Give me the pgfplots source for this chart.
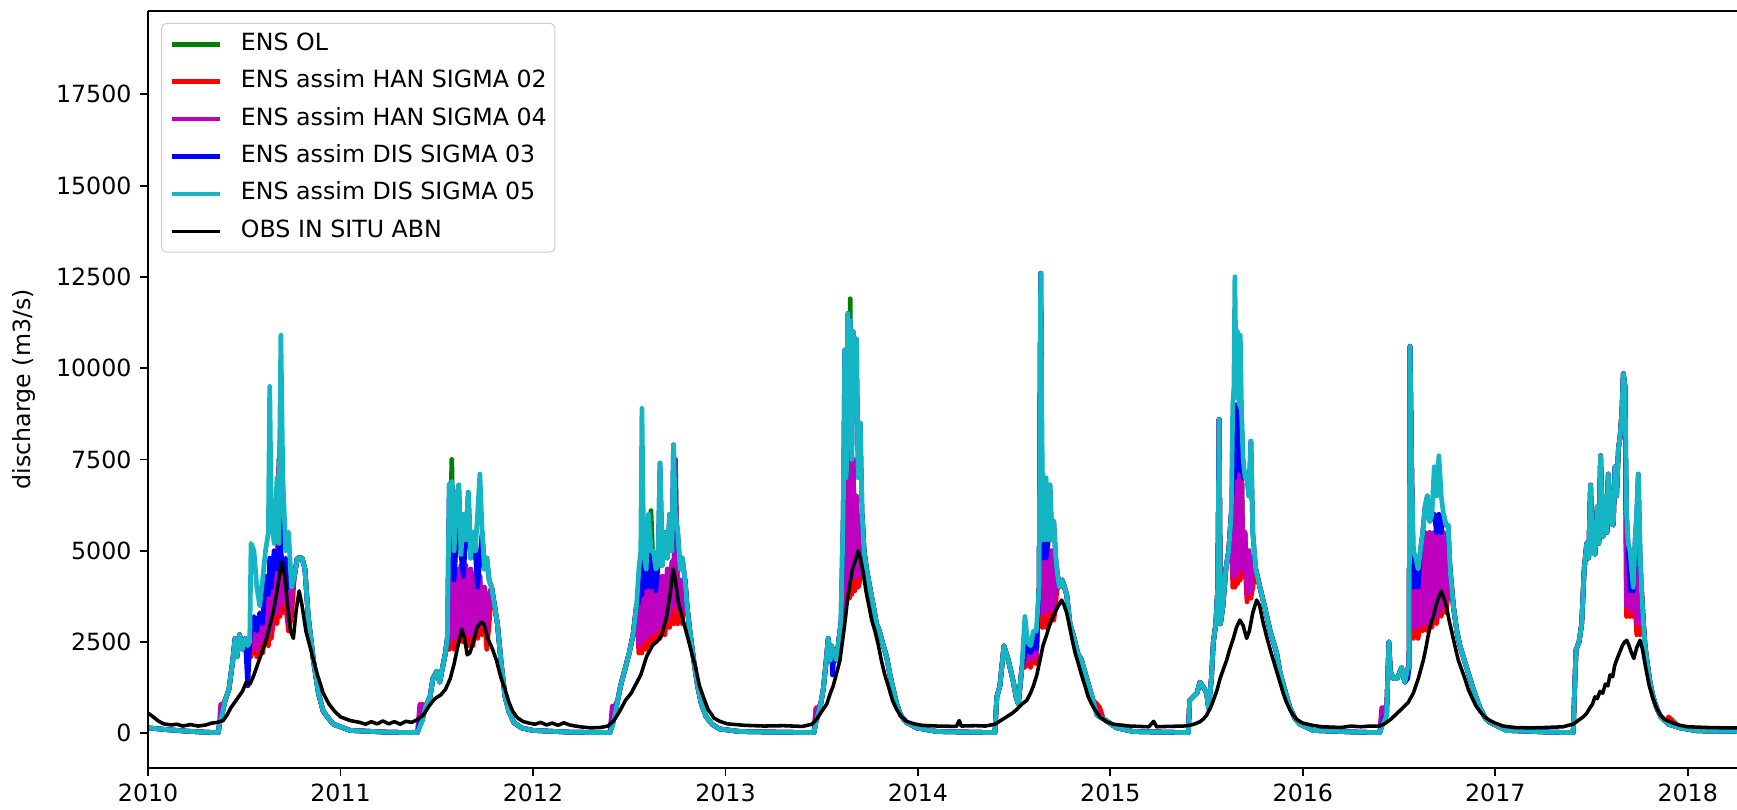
\documentclass[border=0pt]{standalone}
\usepackage{fontspec}
\setmainfont{DejaVu Sans}
\usepackage{pgfplots}
\usepackage{pgfplotstable}
\pgfplotsset{compat=1.18}
\definecolor{mgreen}{rgb}{0,0.5,0}
\definecolor{mred}{rgb}{1,0,0}
\definecolor{mmag}{rgb}{0.75,0,0.75}
\definecolor{mblue}{rgb}{0,0,1}
\definecolor{mcyan}{RGB}{20,182,196}

% x = years since 1 Jan 2010; g = ENS OL, r = HAN 02, m = HAN 04, b = DIS 03, c = DIS 05
\pgfplotstableread{
x g r m b c
0.000 150 150 150 150 150
0.100 100 100 100 100 100
0.200 60 60 60 60 60
0.300 30 30 30 30 30
0.365 20 20 20 20 20
0.372 300 300 300 300 300
0.378 400 800 750 400 400
0.388 600 700 800 600 600
0.400 900 900 900 900 900
0.420 1200 1200 1200 1200 1200
0.440 2000 2000 2000 2000 2000
0.452 2600 2600 2600 2600 2600
0.462 2100 2100 2100 2100 2100
0.475 2700 2700 2700 2700 2700
0.490 2300 2300 2300 2300 2300
0.505 2600 2600 2600 2600 2600
0.518 2400 2400 2400 1300 2400
0.528 2500 2500 2500 2500 2500
0.535 2300 2100 2300 2800 5200
0.550 3000 2600 3000 3200 5000
0.565 2300 2100 2300 2800 4000
0.580 3100 2700 3100 3300 3500
0.595 2500 2200 2500 3000 4200
0.610 4000 2800 4000 4300 5000
0.625 2700 2400 2700 3800 5500
0.632 4300 3000 4300 4800 9500
0.640 2900 2600 2900 4000 6000
0.655 4600 3200 4600 5000 5200
0.670 3300 3000 3300 4500 7000
0.680 7500 3800 7500 5000 5200
0.685 3500 3200 3500 8000 8500
0.690 4600 3800 4600 5000 10900
0.700 3600 3300 3600 4500 7000
0.715 4500 3500 4500 4800 5000
0.730 3000 2800 3000 4000 5500
0.745 3800 3200 3800 4000 4000
0.760 4300 4300 4300 4300 4300
0.775 4800 4800 4800 4800 4800
0.800 4800 4800 4800 4800 4800
0.815 4500 4500 4500 4500 4500
0.832 3200 3200 3200 3200 3200
0.859 2000 2000 2000 2000 2000
0.885 1100 1100 1100 1100 1100
0.910 600 600 600 600 600
0.962 250 250 250 250 250
1.050 80 80 80 80 80
1.250 30 30 30 30 30
1.400 20 20 20 20 20
1.412 200 600 800 300 200
1.425 350 800 700 400 350
1.440 700 700 700 700 700
1.465 1000 1000 1000 1000 1000
1.480 1500 1500 1500 1500 1500
1.500 1700 1700 1700 1700 1700
1.515 1400 1400 1400 1400 1400
1.530 1800 1800 1800 1800 1800
1.545 2200 2200 2200 2200 2200
1.555 2600 2600 2600 2600 2600
1.565 2500 2300 2500 6800 6800
1.578 7500 2800 4500 6900 6900
1.590 2600 2300 2600 4200 5000
1.602 4500 2900 4500 5300 6500
1.614 2700 2500 2700 6800 6800
1.626 4600 3000 4600 4900 4900
1.638 2800 2500 2800 4300 6000
1.650 4600 3100 4600 5300 5300
1.664 2700 2400 2700 6600 6600
1.676 4500 3000 4500 4800 4800
1.688 2700 2400 2700 5500 5500
1.700 4400 3000 4400 5000 5000
1.712 2900 2600 2900 4000 6000
1.724 4300 3200 4300 4800 7100
1.736 3000 2700 3000 5500 5500
1.748 4000 3200 4000 4500 4500
1.760 2800 2300 2800 4800 4800
1.772 3800 3000 3800 4200 4200
1.785 4000 4000 4000 4000 4000
1.800 3500 3500 3500 3500 3500
1.815 3000 3000 3000 3000 3000
1.835 1900 1900 1900 1900 1900
1.855 1000 1000 1000 1000 1000
1.875 600 600 600 600 600
1.900 300 300 300 300 300
1.940 150 150 150 150 150
2.000 80 80 80 80 80
2.200 30 30 30 30 30
2.400 20 20 20 20 20
2.412 200 600 750 300 200
2.425 500 750 700 500 500
2.440 900 900 900 900 900
2.455 1300 1300 1300 1300 1300
2.470 1600 1600 1600 1600 1600
2.480 1800 1800 1800 1800 1800
2.500 2200 2200 2200 2200 2200
2.520 2700 2700 2700 2700 2700
2.538 3500 3500 3500 3500 3500
2.550 2400 2200 2400 3600 4500
2.560 3900 2700 3900 4600 5000
2.566 2500 2200 2500 3800 8900
2.575 4100 2800 4100 4900 5000
2.588 2600 2300 2600 4000 4500
2.600 4300 2900 4300 5000 6000
2.613 6100 2400 2700 4000 5000
2.626 4300 3000 4300 4800 5000
2.638 2800 2500 2800 3900 4500
2.650 4300 3100 4300 4600 4600
2.660 2900 2600 2900 7400 7400
2.672 4300 3200 4300 4600 4600
2.685 3000 2700 3000 5500 5500
2.698 4500 3300 4500 4800 4800
2.710 3200 2900 3200 6000 6000
2.722 4700 3500 4700 5000 5000
2.730 3500 3000 3500 7900 7900
2.740 7500 3600 7500 6000 6000
2.752 3400 3000 3400 5500 5500
2.764 4200 3500 4200 4500 4500
2.776 3300 3000 3300 4800 4800
2.790 4200 4200 4200 4200 4200
2.800 3500 3500 3500 3500 3500
2.815 2800 2800 2800 2800 2800
2.835 2000 2000 2000 2000 2000
2.855 1300 1300 1300 1300 1300
2.875 800 800 800 800 800
2.900 450 450 450 450 450
2.930 250 250 250 250 250
2.970 120 120 120 120 120
3.075 50 50 50 50 50
3.300 30 30 30 30 30
3.460 20 20 20 20 20
3.470 300 700 650 300 300
3.480 500 600 700 500 500
3.495 800 800 800 800 800
3.508 1200 1200 1200 1200 1200
3.520 1800 1800 1800 1800 1800
3.534 2600 2600 2600 2600 2600
3.545 2000 2000 2000 2000 2000
3.551 2400 2400 2400 2400 2400
3.556 2300 2300 2300 1600 2300
3.565 2200 2200 2200 2200 2200
3.578 2000 2000 2000 2000 2000
3.590 2600 2600 2600 2600 2600
3.600 3000 3000 3000 3000 3000
3.612 3500 3300 3500 6000 6000
3.620 5000 3800 5000 10500 10500
3.628 3900 3600 3900 7000 7000
3.636 7000 4000 7000 11500 11500
3.644 4100 3700 4100 8000 8000
3.648 11900 4200 7600 11300 11300
3.656 4200 3800 4200 7500 7500
3.664 7500 4300 7500 11000 11000
3.672 4300 3900 4300 9000 9000
3.680 6500 4300 6500 10800 10800
3.690 4300 4000 4300 7000 7000
3.700 5000 4200 5000 8500 8500
3.710 6000 6000 6000 6000 6000
3.720 5000 5000 5000 5000 5000
3.733 4500 4500 4500 4500 4500
3.750 4000 4000 4000 4000 4000
3.768 3500 3500 3500 3500 3500
3.785 3000 3000 3000 3000 3000
3.800 2800 2800 2800 2800 2800
3.815 2500 2500 2500 2500 2500
3.837 2100 2100 2100 2100 2100
3.855 1600 1600 1600 1600 1600
3.872 1200 1200 1200 1200 1200
3.890 800 800 800 800 800
3.910 500 500 500 500 500
3.940 300 300 300 300 300
3.993 150 150 150 150 150
4.100 50 50 50 50 50
4.300 30 30 30 30 30
4.400 20 20 20 20 20
4.410 1000 1000 1000 1000 1000
4.426 1300 1300 1300 1300 1300
4.447 2400 2400 2400 2400 2400
4.470 2000 2000 2000 2000 2000
4.496 1400 1400 1400 1400 1400
4.510 1000 1000 1000 1000 1000
4.522 800 800 800 800 800
4.540 1800 1800 1800 1800 1800
4.556 2000 1800 2000 2200 3200
4.570 2300 2100 2300 2500 2500
4.585 2000 1800 2000 2200 2400
4.600 2300 2100 2300 2500 2800
4.615 2100 1900 2100 2300 2800
4.630 4000 4000 4000 4000 4000
4.638 12600 12600 12600 12600 12600
4.646 3300 2900 3300 4800 7300
4.656 5000 3400 5000 5200 5300
4.666 3300 2900 3300 4800 7000
4.676 5000 3400 5000 5200 5300
4.686 3400 3000 3400 6800 6800
4.696 5000 3500 5000 5300 5300
4.706 3400 3100 3400 5800 5800
4.716 4600 3500 4600 4800 4800
4.726 4300 4300 4300 4300 4300
4.735 4000 4000 4000 4000 4000
4.750 4200 4200 4200 4200 4200
4.773 3800 3800 3800 3800 3800
4.790 3000 3000 3000 3000 3000
4.807 2700 2700 2700 2700 2700
4.830 2200 2200 2200 2200 2200
4.850 2000 2000 2000 2000 2000
4.877 1500 1500 1500 1500 1500
4.910 900 900 900 900 900
4.930 600 800 600 500 500
4.945 450 700 450 450 450
4.963 400 400 400 400 400
5.033 150 150 150 150 150
5.120 50 50 50 50 50
5.300 30 30 30 30 30
5.405 20 20 20 20 20
5.412 900 900 900 900 900
5.430 1000 1000 1000 1000 1000
5.450 1100 1100 1100 1100 1100
5.465 1400 1400 1400 1400 1400
5.480 1300 1300 1300 1300 1300
5.500 1100 1100 1100 1100 1100
5.510 700 700 700 700 700
5.525 1500 1500 1500 1500 1500
5.535 2500 2500 2500 2500 2500
5.548 3000 3000 3000 3000 3000
5.558 4000 4000 4000 4000 4000
5.565 8600 8600 8600 8600 8600
5.572 3000 3000 3000 3000 3000
5.585 3500 3500 3500 3500 3500
5.600 4500 4500 4500 4500 4500
5.615 5000 5000 5000 5000 5000
5.628 6000 6000 6000 6000 6000
5.636 4300 4000 4300 7000 9000
5.642 7200 4600 7200 9000 9500
5.647 4300 4000 4300 7000 12500
5.654 7300 4600 7300 9000 9200
5.661 4400 4100 4400 7200 11000
5.668 7400 4700 7400 8800 9000
5.675 4500 4200 4500 7200 10900
5.682 7300 4700 7300 8500 8700
5.690 4500 4300 4500 7000 7500
5.700 5500 4600 5500 7000 7000
5.710 3800 3600 3800 7000 7000
5.720 5000 4200 5000 6500 6500
5.730 3900 3700 3900 8000 8000
5.740 4800 4000 4800 5500 5500
5.755 4500 4500 4500 4500 4500
5.777 4000 4000 4000 4000 4000
5.800 3500 3500 3500 3500 3500
5.830 2800 2800 2800 2800 2800
5.864 2200 2200 2200 2200 2200
5.880 1700 1700 1700 1700 1700
5.900 1300 1300 1300 1300 1300
5.933 700 700 700 700 700
5.960 400 400 400 400 400
5.985 250 250 250 250 250
6.055 80 80 80 80 80
6.300 30 30 30 30 30
6.400 20 20 20 20 20
6.410 200 500 700 200 200
6.420 300 600 700 400 300
6.435 500 500 500 500 500
6.447 2500 2500 2500 2500 2500
6.455 1700 1700 1700 1700 1700
6.470 1500 1500 1500 1500 1500
6.490 1500 1500 1500 1500 1500
6.513 1800 1800 1800 1800 1800
6.530 1400 1400 1400 1400 1400
6.545 1800 1800 1800 1500 1800
6.552 1800 1800 1800 1800 1800
6.557 10600 10600 10600 10600 10600
6.566 7000 7000 7000 7000 7000
6.575 2900 2600 2900 4000 5000
6.587 4300 3100 4300 4700 4800
6.599 2900 2600 2900 4000 4500
6.611 4800 3100 4800 5000 5000
6.623 3000 2800 3000 5500 5500
6.635 5500 3200 5500 6200 6200
6.647 3000 2800 3000 6500 6500
6.659 5500 3200 5500 5800 5800
6.671 3100 2900 3100 6000 6000
6.683 5500 3300 5500 6000 7300
6.695 3200 3000 3200 5500 6500
6.707 5600 3500 5600 6000 7600
6.719 3400 3200 3400 5500 6500
6.731 5500 3600 5500 6000 6000
6.743 3500 3300 3500 5700 5700
6.755 5200 3800 5200 5700 5700
6.765 4500 4500 4500 4500 4500
6.782 3500 3500 3500 3500 3500
6.800 2800 2800 2800 2800 2800
6.816 2400 2400 2400 2400 2400
6.851 1800 1800 1800 1800 1800
6.886 1200 1200 1200 1200 1200
6.920 700 700 700 700 700
6.950 400 400 400 400 400
6.972 300 300 300 300 300
7.059 80 80 80 80 80
7.300 30 30 30 30 30
7.405 20 20 20 20 20
7.414 1500 1500 1500 1500 1500
7.420 2300 2300 2300 2300 2300
7.435 2500 2500 2500 2500 2500
7.449 3000 3000 3000 3000 3000
7.462 4500 4500 4500 4500 4500
7.475 5200 5200 5200 5200 5200
7.485 4800 4800 4800 4800 4800
7.495 6800 6800 6800 6800 6800
7.505 5000 5000 5000 5000 5000
7.518 4900 4900 4900 4900 4900
7.530 6200 6200 6200 6200 6200
7.538 5200 5200 5200 5200 5200
7.547 7600 7600 7600 7600 7600
7.555 6000 6000 6000 6000 6000
7.561 5400 5400 5400 5400 5400
7.572 6500 6500 6500 6500 6500
7.580 5500 5500 5500 5500 5500
7.587 7100 7100 7100 7100 7100
7.600 5800 5800 5800 5800 5800
7.613 5700 5700 5700 5700 5700
7.622 7300 7300 7300 7300 7300
7.630 6500 6500 6500 6500 6500
7.640 7800 7800 7800 7800 7800
7.648 8100 8100 8100 8100 8100
7.658 8800 8800 8800 8800 8800
7.665 9850 9850 9850 9850 9850
7.674 9500 9500 9500 9500 9500
7.682 3500 3200 3500 6000 6000
7.690 4700 3700 4700 5200 5200
7.700 3400 3200 3400 3900 5000
7.708 4100 3700 4100 4300 4500
7.717 3400 3200 3400 3900 4000
7.726 5000 3600 5000 5200 5200
7.735 3000 2700 3000 6000 6000
7.743 4800 3200 4800 7100 7100
7.752 3000 2700 3000 5000 5000
7.760 3900 3900 3900 3900 3900
7.770 3000 3000 3000 3000 3000
7.778 2400 2400 2400 2400 2400
7.790 1900 1900 1900 1900 1900
7.804 1400 1400 1400 1400 1400
7.820 1000 1000 1000 1000 1000
7.838 700 700 700 700 700
7.860 450 450 450 450 450
7.890 300 300 300 300 300
7.900 250 450 250 250 250
7.960 150 150 150 150 150
8.050 70 70 70 70 70
8.300 50 50 50 50 50
}\sims

\pgfplotstableread{
x o
0.000 550
0.020 480
0.050 350
0.080 260
0.120 230
0.150 250
0.180 200
0.220 240
0.260 200
0.300 230
0.330 280
0.360 300
0.390 350
0.410 500
0.430 700
0.450 850
0.470 1000
0.490 1150
0.510 1400
0.530 1350
0.550 1600
0.570 1900
0.590 2200
0.610 2500
0.630 2900
0.650 3300
0.670 3900
0.685 4400
0.695 4700
0.710 4300
0.725 3500
0.740 2800
0.755 2600
0.770 3400
0.785 3900
0.800 3500
0.820 2800
0.850 2200
0.880 1600
0.910 1100
0.940 800
0.970 600
1.000 450
1.050 350
1.100 300
1.130 250
1.160 320
1.190 260
1.220 340
1.250 260
1.280 320
1.310 250
1.340 330
1.370 300
1.400 380
1.430 500
1.460 750
1.490 950
1.520 1050
1.545 1200
1.570 1500
1.590 1900
1.610 2400
1.630 2850
1.645 2600
1.658 2150
1.672 2200
1.690 2500
1.710 2900
1.730 3050
1.745 3000
1.765 2600
1.790 2300
1.810 2000
1.835 1500
1.855 1200
1.875 850
1.895 600
1.920 420
1.950 320
1.980 280
2.010 250
2.040 300
2.070 230
2.100 280
2.130 220
2.160 290
2.190 230
2.220 200
2.260 170
2.300 150
2.350 160
2.390 200
2.420 350
2.450 600
2.480 900
2.510 1100
2.540 1400
2.560 1600
2.590 2100
2.620 2400
2.650 2550
2.670 2700
2.694 3200
2.712 3800
2.728 4500
2.740 4200
2.755 3600
2.775 3200
2.800 2700
2.825 2200
2.845 1800
2.865 1300
2.885 1000
2.910 650
2.940 420
2.970 330
3.010 260
3.100 220
3.200 200
3.300 210
3.400 190
3.450 250
3.475 400
3.500 600
3.526 800
3.545 1100
3.560 1300
3.580 1700
3.595 2000
3.610 2600
3.620 3000
3.635 3700
3.647 4100
3.660 4500
3.673 4700
3.690 5000
3.700 4800
3.716 4400
3.730 3900
3.745 3500
3.760 3100
3.777 2800
3.795 2400
3.810 2000
3.828 1600
3.846 1300
3.868 900
3.890 650
3.915 450
3.940 330
3.980 260
4.020 220
4.100 200
4.200 190
4.215 350
4.225 200
4.300 210
4.350 200
4.400 250
4.430 350
4.460 450
4.490 550
4.513 650
4.540 800
4.565 900
4.585 1100
4.600 1300
4.618 1600
4.634 2000
4.650 2400
4.669 2700
4.686 3000
4.703 3200
4.725 3450
4.747 3650
4.760 3500
4.773 3300
4.787 2950
4.800 2600
4.817 2200
4.834 1900
4.850 1600
4.868 1300
4.885 1000
4.903 800
4.925 600
4.946 450
4.980 320
5.015 250
5.100 200
5.200 180
5.225 330
5.240 180
5.300 190
5.380 200
5.414 220
5.440 260
5.466 320
5.485 400
5.500 500
5.520 700
5.535 900
5.555 1200
5.570 1500
5.590 1800
5.604 2000
5.620 2300
5.639 2600
5.655 2900
5.673 3100
5.690 2950
5.708 2600
5.722 2800
5.740 3300
5.760 3650
5.775 3500
5.795 3000
5.812 2650
5.830 2300
5.847 2000
5.864 1700
5.881 1400
5.898 1100
5.915 850
5.933 650
5.950 500
5.968 380
6.000 280
6.050 220
6.100 180
6.200 160
6.250 200
6.300 180
6.350 200
6.400 200
6.430 280
6.460 400
6.490 550
6.520 700
6.548 850
6.574 1100
6.600 1500
6.613 1750
6.626 2000
6.640 2350
6.652 2700
6.665 3000
6.678 3200
6.692 3500
6.704 3700
6.720 3900
6.733 3700
6.747 3450
6.760 3100
6.773 2800
6.790 2400
6.808 2000
6.825 1750
6.842 1500
6.860 1200
6.877 1000
6.900 750
6.920 600
6.945 450
6.972 350
7.000 280
7.040 200
7.100 160
7.180 150
7.260 160
7.353 180
7.380 220
7.405 250
7.430 350
7.457 450
7.475 550
7.492 700
7.505 800
7.518 1000
7.530 950
7.544 1150
7.558 1100
7.572 1350
7.585 1300
7.596 1600
7.610 1550
7.620 1850
7.630 2000
7.645 2200
7.660 2400
7.672 2500
7.683 2550
7.695 2400
7.708 2200
7.720 2050
7.735 2350
7.752 2550
7.765 2300
7.778 1900
7.787 1650
7.800 1300
7.820 950
7.838 700
7.855 520
7.880 380
7.925 280
7.960 220
8.000 180
8.100 160
8.200 150
8.300 150
}\obs

\begin{document}
\begin{tikzpicture}
\useasboundingbox (-62.5pt,-17.85pt) rectangle (670.6pt,324.0pt);
\begin{axis}[
  at={(0,0)}, anchor=south west,
  scale only axis, width=670.6pt, height=319.5pt,
  xmin=0, xmax=8.256, ymin=-940, ymax=19790,
  xtick={0,1,2,3,4,5,6,7,8},
  xticklabels={2010,2011,2012,2013,2014,2015,2016,2017,2018},
  ytick={0,2500,5000,7500,10000,12500,15000,17500},
  /pgf/number format/assume math mode=true,
  /pgf/number format/1000 sep={},
  scaled y ticks=false,
  axis lines*=left,
  axis line style={-, line width=0.8pt},
  tick align=outside,
  major tick length=3.5pt,
  every tick/.style={black, line width=0.8pt},
  tick label style={font=\fontsize{10}{12}\selectfont},
  ylabel={discharge (m3/s)},
  every axis y label/.style={at={(axis description cs:-0.078,0.5)}, rotate=90, anchor=center, font=\fontsize{10}{12}\selectfont},
  axis on top,
  every axis plot/.append style={line join=round},
  extra description/.code={\draw[line width=0.8pt] (0,1) -- (1,1);},
  legend cell align=left,
  legend image code/.code={\draw[#1] (0pt,0pt) -- (20pt,0pt);},
  legend style={at={(0,1)}, anchor=north west, xshift=5.5pt, yshift=-5.2pt,
    draw=black!20, rounded corners=2pt, fill=white, fill opacity=0.8, text opacity=1,
    inner xsep=3.5pt, inner ysep=4pt,
    font=\fontsize{10}{12}\selectfont,
    nodes={inner sep=0pt, text height=7.3pt, text depth=2.2pt},
    row sep=6.3pt, column sep=8pt},
]
\addplot[mgreen, line width=2pt] table[x=x, y=g] {\sims};
\addlegendentry{ENS OL}
\addplot[mred, line width=2pt] table[x=x, y=r] {\sims};
\addlegendentry{ENS assim HAN SIGMA 02}
\addplot[mmag, line width=2pt] table[x=x, y=m] {\sims};
\addlegendentry{ENS assim HAN SIGMA 04}
\addplot[mblue, line width=2pt] table[x=x, y=b] {\sims};
\addlegendentry{ENS assim DIS SIGMA 03}
\addplot[mcyan, line width=2pt] table[x=x, y=c] {\sims};
\addlegendentry{ENS assim DIS SIGMA 05}
\addplot[black, line width=1.5pt] table[x=x, y=o] {\obs};
\addlegendentry{OBS IN SITU ABN}
\end{axis}
\end{tikzpicture}
\end{document}
